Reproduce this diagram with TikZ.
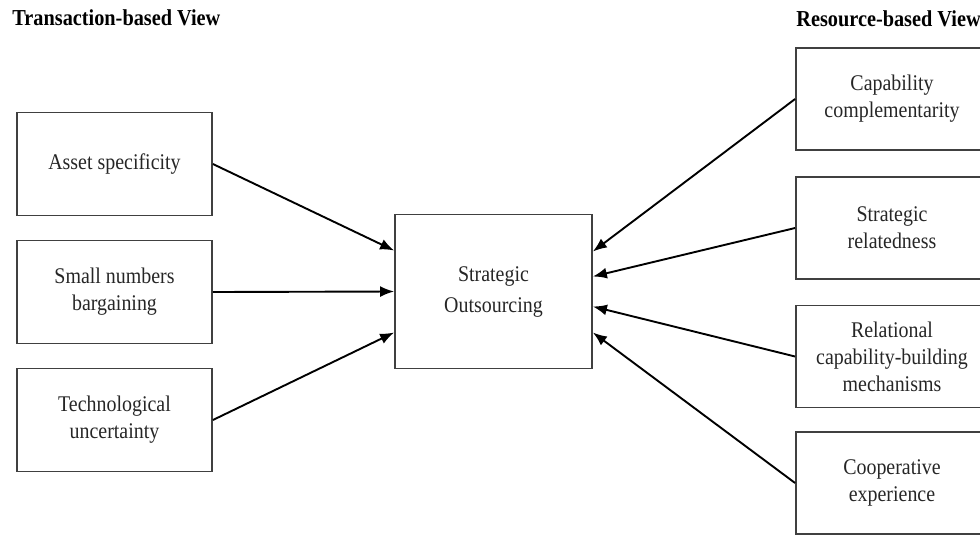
\documentclass[tikz,border=0pt]{standalone}
\usepackage{fontspec}
\setmainfont{Liberation Serif}[FakeStretch=0.89]
\usetikzlibrary{arrows.meta}
\tikzset{
  factor/.style={draw=black!75, line width=0.9pt, minimum width=97.5pt,
    minimum height=51.5pt, align=center, text=black!85,
    font=\fontsize{11.2}{13.5}\selectfont},
  rfactor/.style={factor, minimum width=96pt, minimum height=51pt},
  outcome/.style={factor, minimum width=98.5pt, minimum height=77pt,
    font=\fontsize{11.2}{15.5}\selectfont},
  arr/.style={-{Latex[length=7pt,width=5.5pt]}, line width=0.95pt},
  heading/.style={anchor=west, inner sep=0pt, font=\bfseries\fontsize{11.4}{12}\selectfont}
}
\begin{document}
\begin{tikzpicture}[x=0.5pt,y=-0.5pt]
	\clip (0,0) rectangle (980,537);

	\node[heading] (tcv) at (12,18) {Transaction-based View};
	\node[heading] (rbv) at (796,19) {Resource-based View};

	% transaction-based side
	\node[factor] (asset) at (114.5,164) {Asset specificity};
	\node[factor] (small) at (114.5,292) {Small numbers\\bargaining};
	\node[factor] (tech) at (114.5,420) {Technological\\uncertainty};

	\node[outcome] (so) at (493.5,291.5) {Strategic\\Outsourcing};

	% resource-based side
	\node[rfactor] (cap) at (892,99) {Capability\\complementarity};
	\node[rfactor] (rel) at (892,228) {Strategic\\relatedness};
	\node[rfactor] (rcb) at (892,356.5) {Relational\\capability-building\\mechanisms};
	\node[rfactor] (coop) at (892,483) {Cooperative\\experience};

	\draw[arr] (asset.east) -- ([yshift=20.5pt]so.west);
	\draw[arr] (small.east) -- (so.west);
	\draw[arr] (tech.east) -- ([yshift=-20.5pt]so.west);

	\draw[arr] (cap.west) -- ([yshift=20pt]so.east);
	\draw[arr] (rel.west) -- ([yshift=7.5pt]so.east);
	\draw[arr] (rcb.west) -- ([yshift=-7.5pt]so.east);
	\draw[arr] (coop.west) -- ([yshift=-20.5pt]so.east);
\end{tikzpicture}
\end{document}
